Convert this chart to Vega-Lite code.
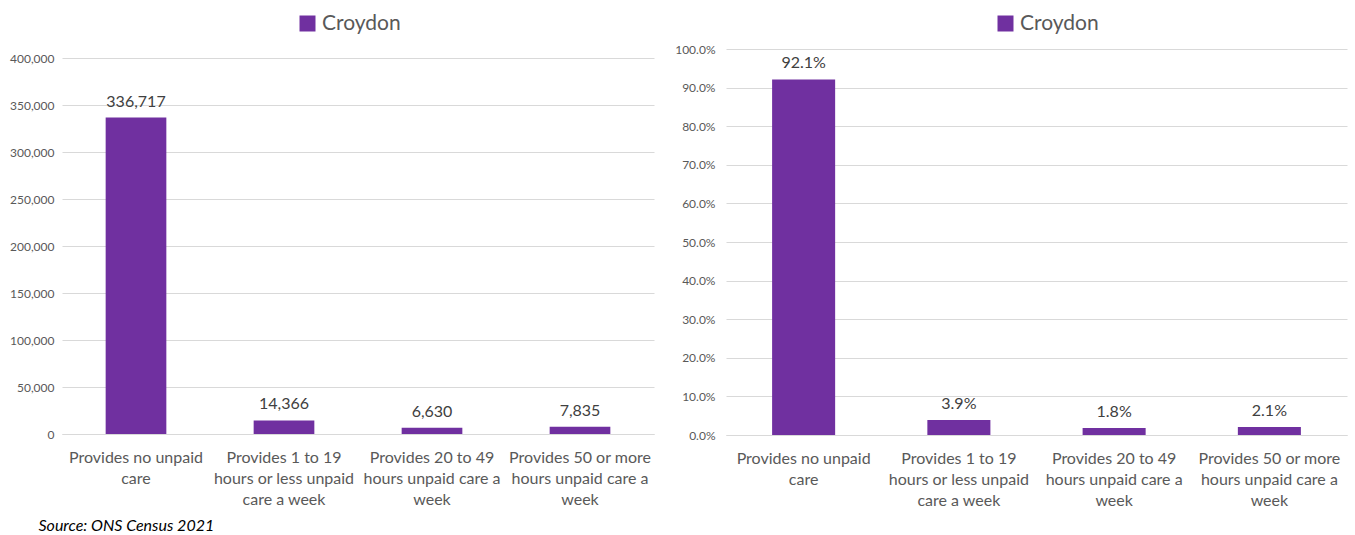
{
  "$schema": "https://vega.github.io/schema/vega-lite/v6.json",
  "background": "white",
  "padding": {"left": 9, "top": 13, "right": 5, "bottom": 1},
  "spacing": 20,
  "config": {
    "view": {"stroke": null},
    "font": "Lato",
    "axis": {"labelFont": "Lato", "labelColor": "#595959", "ticks": false, "title": null},
    "legend": {"labelFont": "Lato"}
  },
  "title": {"text": "Source: ONS Census 2021", "orient": "bottom", "anchor": "start", "fontStyle": "italic", "fontWeight": "normal", "fontSize": 16, "color": "#000000", "font": "Lato", "dx": 29, "offset": 10},
  "datasets": {
    "counts": [
      {"category": "Provides no unpaid|care", "series": "Croydon", "value": 336717, "pct": 0.921},
      {"category": "Provides 1 to 19|hours or less unpaid|care a week", "series": "Croydon", "value": 14366, "pct": 0.039},
      {"category": "Provides 20 to 49|hours unpaid care a|week", "series": "Croydon", "value": 6630, "pct": 0.018},
      {"category": "Provides 50 or more|hours unpaid care a|week", "series": "Croydon", "value": 7835, "pct": 0.021}
    ]
  },
  "hconcat": [
    {
      "width": 592,
      "height": 385,
      "data": {"name": "counts"},
      "encoding": {
        "x": {"field": "category", "type": "nominal", "sort": null,
          "scale": {"paddingInner": 0.59, "paddingOuter": 0.295},
          "axis": {"labelAngle": 0, "labelExpr": "split(datum.label, '|')", "labelFontSize": 16, "labelLineHeight": 21, "labelPadding": 15, "labelLimit": 0, "domainColor": "#d9d9d9", "labelBaseline": "top"}},
        "y": {"field": "value", "type": "quantitative", "scale": {"domain": [0, 409600], "nice": false},
          "axis": {"values": [0, 50000, 100000, 150000, 200000, 250000, 300000, 350000, 400000], "format": ",.0f", "labelFontSize": 12, "labelPadding": 8, "domain": false, "gridColor": "#d9d9d9"}}
      },
      "layer": [
        {
          "mark": {"type": "bar", "color": "#7030A0"},
          "encoding": {
            "color": {"field": "series", "type": "nominal", "scale": {"range": ["#7030A0"]},
              "legend": {"title": null, "orient": "none", "legendX": 235, "legendY": -36, "symbolType": "square", "symbolSize": 256, "labelFontSize": 21, "labelColor": "#595959", "symbolOpacity": 1}}
          }
        },
        {
          "mark": {"type": "text", "baseline": "bottom", "dy": -8, "fontSize": 16, "color": "#404040"},
          "encoding": {
            "text": {"field": "value", "type": "quantitative", "format": ","}
          }
        }
      ]
    },
    {
      "width": 621,
      "height": 386,
      "data": {"name": "counts"},
      "encoding": {
        "x": {"field": "category", "type": "nominal", "sort": null,
          "scale": {"paddingInner": 0.594, "paddingOuter": 0.297},
          "axis": {"labelAngle": 0, "labelExpr": "split(datum.label, '|')", "labelFontSize": 16, "labelLineHeight": 21, "labelPadding": 15, "labelLimit": 0, "domainColor": "#d9d9d9", "labelBaseline": "top"}},
        "y": {"field": "pct", "type": "quantitative", "scale": {"domain": [0, 1], "nice": false},
          "axis": {"values": [0, 0.1, 0.2, 0.3, 0.4, 0.5, 0.6, 0.7, 0.8, 0.9, 1.0], "format": ".1%", "labelFontSize": 12, "labelPadding": 11, "labelOverlap": false, "domain": false, "gridColor": "#d9d9d9"}}
      },
      "layer": [
        {
          "mark": {"type": "bar", "color": "#7030A0"},
          "encoding": {
            "color": {"field": "series", "type": "nominal", "scale": {"range": ["#7030A0"]},
              "legend": {"title": null, "orient": "none", "legendX": 269, "legendY": -36, "symbolType": "square", "symbolSize": 256, "labelFontSize": 21, "labelColor": "#595959", "symbolOpacity": 1}}
          }
        },
        {
          "mark": {"type": "text", "baseline": "bottom", "dy": -8, "fontSize": 16, "color": "#404040"},
          "encoding": {
            "text": {"field": "pct", "type": "quantitative", "format": ".1%"}
          }
        }
      ]
    }
  ],
  "resolve": {"scale": {"color": "independent"}}
}
